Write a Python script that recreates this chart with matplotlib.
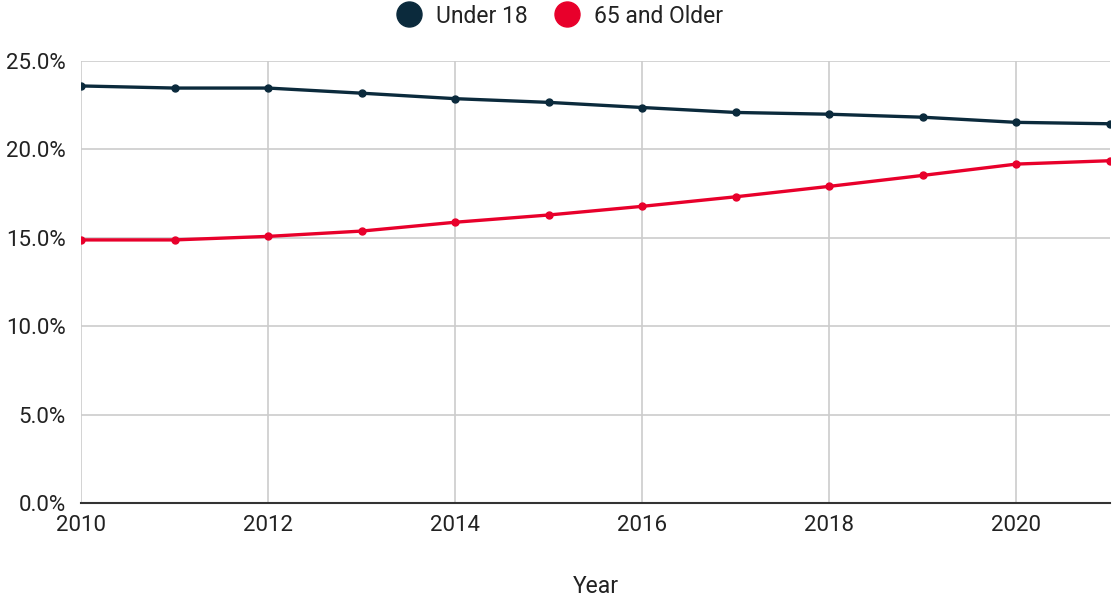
import matplotlib.pyplot as plt
from matplotlib.lines import Line2D
from matplotlib.ticker import FuncFormatter

plt.rcParams["font.family"] = ["Roboto", "DejaVu Sans"]

years = list(range(2010, 2022))
under_18 = [23.59, 23.47, 23.47, 23.18, 22.87, 22.66, 22.37, 22.09, 21.99, 21.82, 21.53, 21.45]
older_65 = [14.88, 14.88, 15.08, 15.38, 15.88, 16.29, 16.78, 17.32, 17.91, 18.53, 19.17, 19.36]

NAVY = "#0b2a3c"
RED = "#e8002b"
TEXT = "#222222"

fig = plt.figure(figsize=(11.16, 5.97), dpi=100)
ax = fig.add_axes([0.0726, 0.1575, 0.922, 0.7403])

ax.plot(years, under_18, color=NAVY, linewidth=2.4, marker="o", markersize=5, label="Under 18")
ax.plot(years, older_65, color=RED, linewidth=2.4, marker="o", markersize=5, label="65 and Older")

ax.set_xlim(2010, 2021)
ax.set_ylim(0, 25)
ax.set_xticks(range(2010, 2022, 2))
ax.set_yticks([0, 5, 10, 15, 20, 25])
ax.yaxis.set_major_formatter(FuncFormatter(lambda v, _: f"{v:.1f}%"))

ax.grid(True, color="#cccccc", linewidth=1.2)
ax.set_axisbelow(True)
for side in ["top", "right", "left"]:
    ax.spines[side].set_visible(False)
ax.spines["bottom"].set_color("#333333")
ax.spines["bottom"].set_linewidth(1.5)
ax.spines["bottom"].set_zorder(1)

ax.tick_params(axis="both", length=0, labelsize=16, labelcolor=TEXT)
ax.tick_params(axis="y", pad=11)
ax.tick_params(axis="x", pad=9)

ax.set_xlabel("Year", fontsize=16.5, color=TEXT, labelpad=28)

handles = [
    Line2D([], [], linestyle="none", marker="o", markersize=18, color=NAVY),
    Line2D([], [], linestyle="none", marker="o", markersize=18, color=RED),
]
fig.legend(handles, ["Under 18", "65 and Older"], loc="upper center",
           bbox_to_anchor=(0.497, 1.027), ncol=2, frameon=False, fontsize=16.5,
           handletextpad=0.15, columnspacing=0.75, labelcolor=TEXT)

fig.savefig("out.png", dpi=100, facecolor="white")
